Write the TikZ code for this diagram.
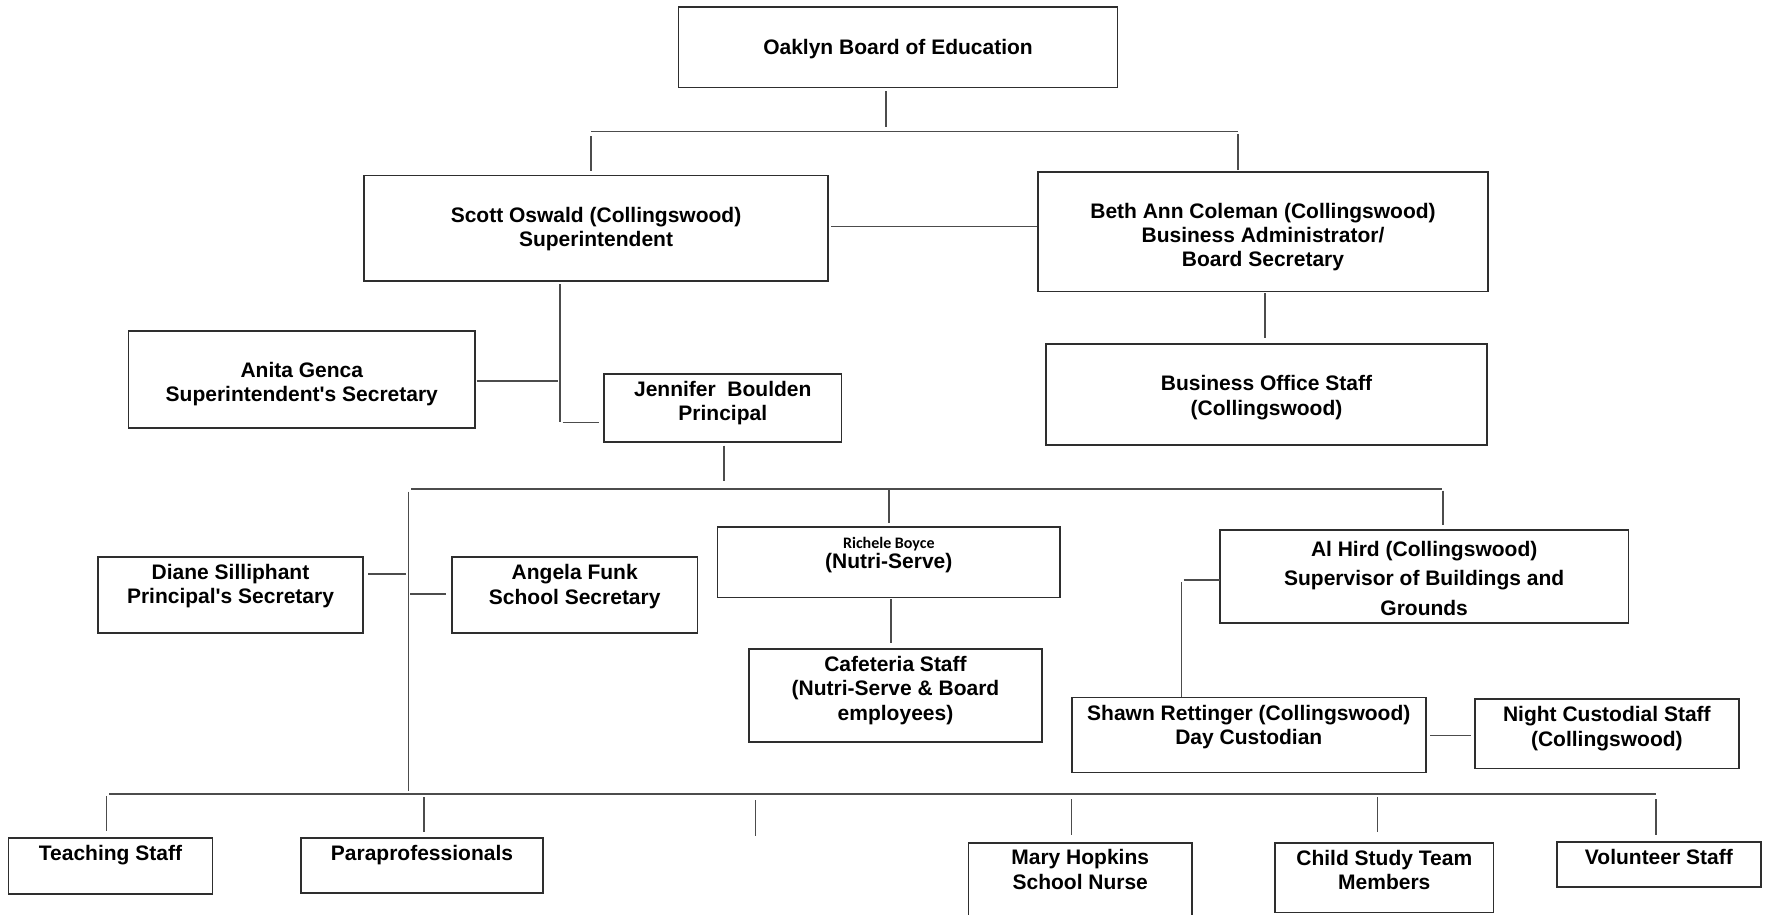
\documentclass[tikz,border=0pt]{standalone}
\usepackage{fontspec}
\setmainfont{Liberation Sans}
\newfontfamily\carlito{Carlito}
\usetikzlibrary{fit}
\tikzset{
  box/.style={draw=black!82, line width=1.6pt, rectangle, inner sep=0pt, fill=none},
  txt/.style={font=\fontsize{21}{24.3}\selectfont\bfseries, align=center, inner sep=0pt, anchor=base},
  conn/.style={draw=black!70, line width=1.3pt},
}
\begin{document}
\begin{tikzpicture}[x=1pt,y=-1pt]
\useasboundingbox (0,0) rectangle (1765,914);
% boxes
\node[box, fit={(678.5,6.7)(1117.6,87.3)}] (oak) {};
\node[box, fit={(364,175.3)(828,280.7)}] (scott) {};
\node[box, fit={(1038,172)(1488,291.3)}] (beth) {};
\node[box, fit={(1046,344)(1487,445)}] (bos) {};
\node[box, fit={(128.6,331)(475,428)}] (anita) {};
\node[box, fit={(604,374)(841.6,441.7)}] (jen) {};
\node[box, fit={(98,557)(363,633)}] (diane) {};
\node[box, fit={(452,557)(697.5,633)}] (angela) {};
\node[box, fit={(717.6,526.7)(1060,597.3)}] (richele) {};
\node[box, fit={(749,649)(1042,742)}] (cafe) {};
\node[box, fit={(1219.8,530)(1628.5,623)}] (alhird) {};
\node[box, fit={(1071.7,697.3)(1425.9,772.3)}] (shawn) {};
\node[box, fit={(1475,698.7)(1738.7,768.3)}] (night) {};
\node[box, fit={(8.6,838)(212.4,894)}] (teach) {};
\node[box, fit={(301,838)(543,893)}] (para) {};
\node[box, fit={(968.3,842.7)(1192.2,935)}] (mary) {};
\node[box, fit={(1274.9,843)(1493.6,912.5)}] (child) {};
\node[box, fit={(1556.7,841.7)(1761,886.7)}] (vol) {};
% texts (anchor = baseline of the last line)
\node[txt] (oakT) at (oak.center |- 0,54) {Oaklyn Board of Education};
\node[txt] (scottT) at (scott.center |- 0,246.7) {Scott Oswald (Collingswood)\\Superintendent};
\node[txt] (bethT) at (beth.center |- 0,266.7) {Beth Ann Coleman (Collingswood)\\Business Administrator/\\Board Secretary};
\node[txt] (bosT) at (bos.center |- 0,415) {Business Office Staff\\(Collingswood)};
\node[txt] (anitaT) at (anita.center |- 0,401.7) {Anita Genca\\Superintendent\textquotesingle s Secretary};
\node[txt] (jenT) at (jen.center |- 0,420.7) {Jennifer\ \ Boulden\\Principal};
\node[txt] (dianeT) at (diane.center |- 0,603.3) {Diane Silliphant\\Principal\textquotesingle s Secretary};
\node[txt] (angelaT) at (angela.center |- 0,604) {Angela Funk\\School Secretary};
\node[txt] (richeleT) at (richele.center |- 0,568.3) {{\carlito\fontsize{16}{16}\selectfont\bfseries Richele Boyce}\\[-4pt](Nutri-Serve)};
\node[txt] (cafeT) at (cafe.center |- 0,720) {Cafeteria Staff\\(Nutri-Serve \& Board\\employees)};
\node[txt, font=\fontsize{21}{29.2}\selectfont\bfseries] (alhirdT) at (alhird.center |- 0,615) {Al Hird (Collingswood)\\Supervisor of Buildings and\\Grounds};
\node[txt] (shawnT) at (shawn.center |- 0,744.3) {Shawn Rettinger (Collingswood)\\Day Custodian};
\node[txt] (nightT) at (night.center |- 0,746) {Night Custodial Staff\\(Collingswood)};
\node[txt] (teachT) at (teach.center |- 0,860) {Teaching Staff};
\node[txt] (paraT) at (para.center |- 0,860) {Paraprofessionals};
\node[txt] (maryT) at (mary.center |- 0,889) {Mary Hopkins\\School Nurse};
\node[txt] (childT) at (child.center |- 0,889.3) {Child Study Team\\Members};
\node[txt] (volT) at (vol.center |- 0,864.3) {Volunteer Staff};
% connector coordinates
\coordinate (oakD1) at (886,91);   \coordinate (oakD2) at (886,126.7);
\coordinate (topL) at (591,131.7); \coordinate (topR) at (1238,131.7);
\coordinate (scU1) at (591,136);   \coordinate (scU2) at (591,171);
\coordinate (beU1) at (1238,134);  \coordinate (beU2) at (1238,170);
\coordinate (scR) at (831,226.7);
\coordinate (beD1) at (1265,293);  \coordinate (beD2) at (1265,338);
\coordinate (scD1) at (560,284);   \coordinate (scD2) at (560,421.7);
\coordinate (anR1) at (476.5,381); \coordinate (anR2) at (558,381);
\coordinate (jeL1) at (562.6,422.7); \coordinate (jeL2) at (598.7,422.7);
\coordinate (jeD1) at (724,445.7); \coordinate (jeD2) at (724,480.7);
\coordinate (midL) at (411,489);   \coordinate (midR) at (1442,489);
\coordinate (tr1) at (408.7,491.7); \coordinate (tr2) at (408.7,791);
\coordinate (riU1) at (889,489);   \coordinate (riU2) at (889,523);
\coordinate (alU1) at (1443,490.7); \coordinate (alU2) at (1443,525);
\coordinate (diR1) at (368,574);   \coordinate (diR2) at (406,574);
\coordinate (agL1) at (410,594);   \coordinate (agL2) at (445.5,594);
\coordinate (caU1) at (891,599);   \coordinate (caU2) at (891,643);
\coordinate (alL1) at (1183.6,580); \coordinate (alL2) at (1219.8,580);
\coordinate (shU1) at (1181.3,582); \coordinate (shU2) at (1181.3,696.7);
\coordinate (niL1) at (1430.4,735.3); \coordinate (niL2) at (1471,735.3);
\coordinate (botL) at (109,794);   \coordinate (botR) at (1656,794);
\coordinate (teU1) at (106.8,796); \coordinate (teU2) at (106.8,831);
\coordinate (paU1) at (424,797);   \coordinate (paU2) at (424,832);
\coordinate (emU1) at (755.5,800); \coordinate (emU2) at (755.5,835.7);
\coordinate (maU1) at (1071.7,799); \coordinate (maU2) at (1071.7,835);
\coordinate (chU1) at (1377.6,797); \coordinate (chU2) at (1377.6,832);
\coordinate (voU1) at (1656,799);  \coordinate (voU2) at (1656,835);
% connectors
\draw[conn] (oakD1) -- (oakD2);
\draw[conn] (topL) -- (topR);
\draw[conn] (scU1) -- (scU2);
\draw[conn] (beU1) -- (beU2);
\draw[conn] (scR) -- (scR -| beth.west);
\draw[conn] (beD1) -- (beD2);
\draw[conn] (scD1) -- (scD2);
\draw[conn] (anR1) -- (anR2);
\draw[conn] (jeL1) -- (jeL2);
\draw[conn] (jeD1) -- (jeD2);
\draw[conn] (midL) -- (midR);
\draw[conn] (tr1) -- (tr2);
\draw[conn] (riU1) -- (riU2);
\draw[conn] (alU1) -- (alU2);
\draw[conn] (diR1) -- (diR2);
\draw[conn] (agL1) -- (agL2);
\draw[conn] (caU1) -- (caU2);
\draw[conn] (alL1) -- (alL2);
\draw[conn] (shU1) -- (shU2);
\draw[conn] (niL1) -- (niL2);
\draw[conn] (botL) -- (botR);
\draw[conn] (teU1) -- (teU2);
\draw[conn] (paU1) -- (paU2);
\draw[conn] (emU1) -- (emU2);
\draw[conn] (maU1) -- (maU2);
\draw[conn] (chU1) -- (chU2);
\draw[conn] (voU1) -- (voU2);
\end{tikzpicture}
\end{document}
